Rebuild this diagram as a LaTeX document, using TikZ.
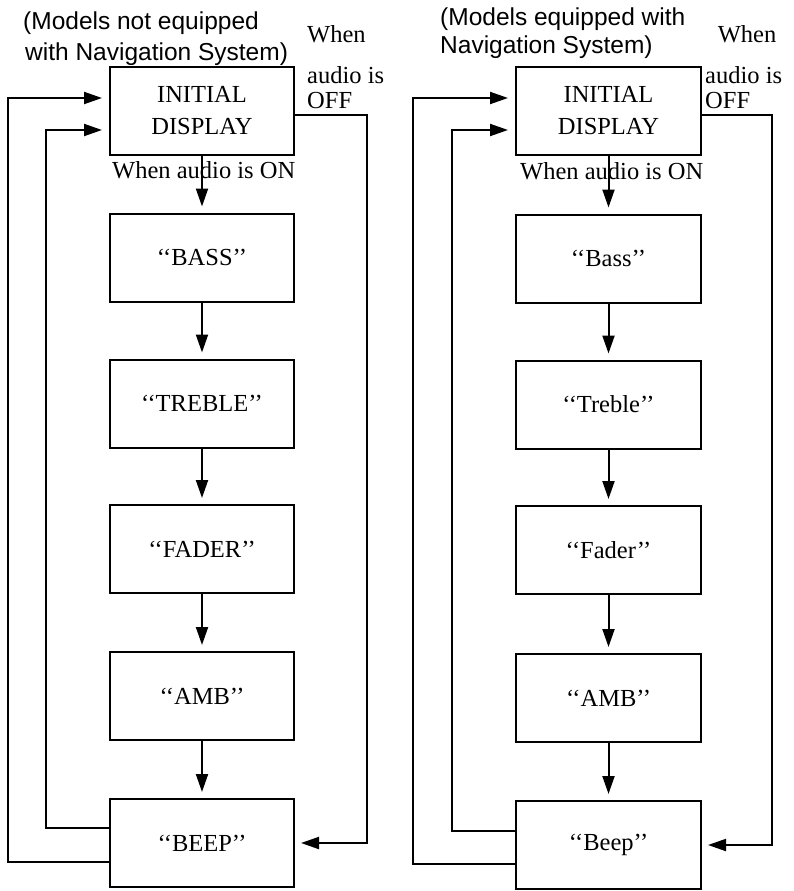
\documentclass[tikz,border=0pt]{standalone}
\usepackage{fontspec}
\setmainfont{Liberation Serif}
\newfontfamily\hdrfont{Liberation Sans}
\usetikzlibrary{arrows.meta}
\begin{document}
\begin{tikzpicture}[x=1pt,y=-1pt,
  box/.style={draw,line width=2pt,minimum width=184pt,minimum height=88pt,inner sep=0pt,align=center,font=\fontsize{24.5}{32}\selectfont},
  flow/.style={line width=2pt,-{Triangle[length=18pt,width=12pt]},shorten >=6pt},
  lbl/.style={font=\fontsize{24.5}{29}\selectfont,inner sep=0pt,anchor=base west},
  hdr/.style={font=\hdrfont\fontsize{24.5}{29}\selectfont,inner sep=0pt,anchor=base west}]
\useasboundingbox (0,0) rectangle (794,891);

% ---------- left column ----------
\node[hdr] (hl1) at (23,30) {(Models not equipped};
\node[hdr] (hl2) at (25,61) {with Navigation System)};
\node[lbl] (offl1) at (307,43) {When};
\node[lbl] (offl2) at (307,83) {audio is};
\node[lbl] (offl3) at (307,108) {OFF};

\node[box] (li) at (202,111) {INITIAL\\DISPLAY};
\node[lbl] (onl) at (112,178) {When audio is ON};
\node[box] (lb) at (202,257.5) {‘‘BASS’’};
\node[box] (lt) at (202,403.5) {‘‘TREBLE’’};
\node[box] (lf) at (202,549) {‘‘FADER’’};
\node[box] (la) at (202,696) {‘‘AMB’’};
\node[box] (le) at (202,843) {‘‘BEEP’’};

\draw[flow] (li) -- (lb);
\draw[flow] (lb) -- (lt);
\draw[flow] (lt) -- (lf);
\draw[flow] (lf) -- (la);
\draw[flow] (la) -- (le);
\draw[flow,shorten >=7pt] (le.west |- 0,862) -| (8,98) -- (li.west |- 0,98);
\draw[flow,shorten >=7pt] (le.west |- 0,828) -| (46,130) -- (li.west |- 0,130);
\draw[flow] (li.east |- 0,115) -| (367,843) -- (le.east |- 0,843);

% ---------- right column ----------
\node[hdr] (hr1) at (440,26) {(Models equipped with};
\node[hdr] (hr2) at (440,54) {Navigation System)};
\node[lbl,anchor=base] (offr1) at (747,43) {When};
\node[lbl] (offr2) at (705,83) {audio is};
\node[lbl] (offr3) at (705,108) {OFF};

\node[box,minimum width=185pt] (ri) at (608.5,111) {INITIAL\\DISPLAY};
\node[lbl] (onr) at (520,179) {When audio is ON};
\node[box,minimum width=185pt] (rb) at (608.5,258.5) {‘‘Bass’’};
\node[box,minimum width=185pt] (rt) at (608.5,404.5) {‘‘Treble’’};
\node[box,minimum width=185pt] (rf) at (608.5,550) {‘‘Fader’’};
\node[box,minimum width=185pt] (ra) at (608.5,698) {‘‘AMB’’};
\node[box,minimum width=185pt] (re) at (608.5,845) {‘‘Beep’’};

\draw[flow] (ri) -- (rb);
\draw[flow] (rb) -- (rt);
\draw[flow] (rt) -- (rf);
\draw[flow] (rf) -- (ra);
\draw[flow] (ra) -- (re);
\draw[flow,shorten >=7pt] (re.west |- 0,864) -| (413,98) -- (ri.west |- 0,98);
\draw[flow,shorten >=7pt] (re.west |- 0,831) -| (452,130) -- (ri.west |- 0,130);
\draw[flow] (ri.east |- 0,115) -| (772,845) -- (re.east |- 0,845);
\end{tikzpicture}
\end{document}
